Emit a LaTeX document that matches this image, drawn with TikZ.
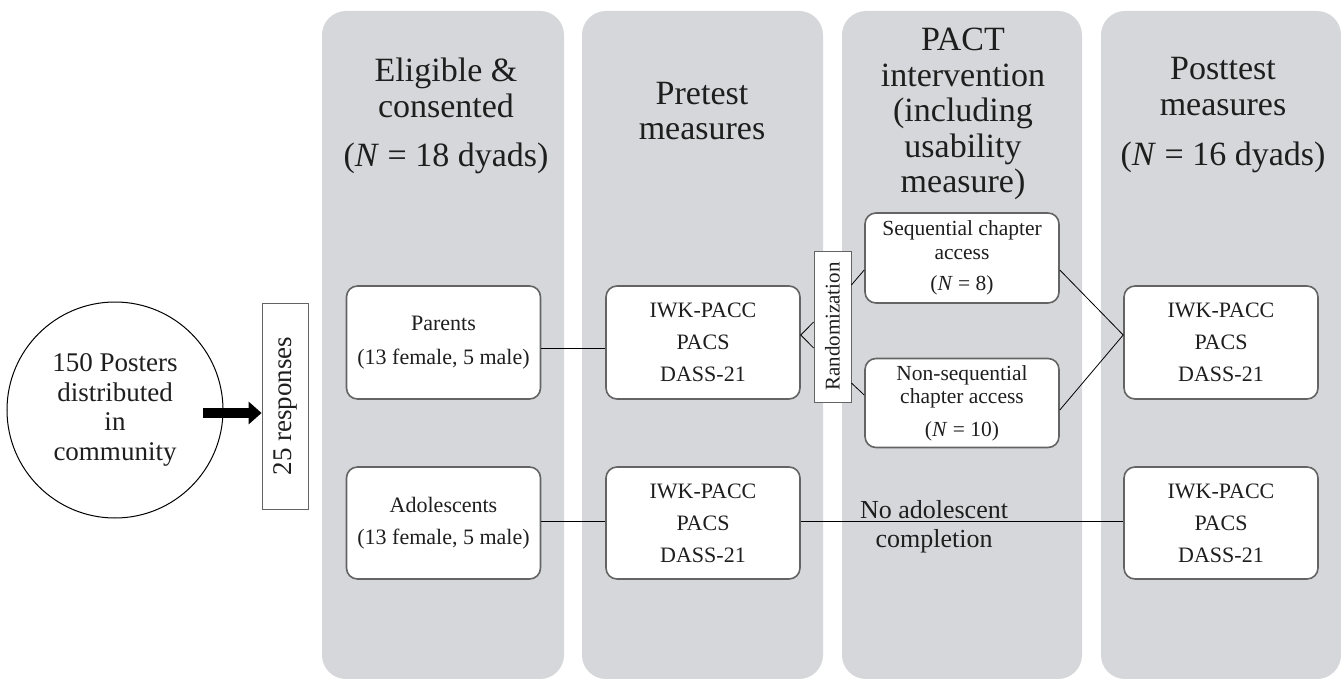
\documentclass[tikz,border=0pt]{standalone}
\usepackage{fontspec}
\usepackage{graphicx}
\setmainfont{Liberation Serif}
\usetikzlibrary{arrows.meta}
\definecolor{colgray}{RGB}{214,215,218}
\definecolor{boxline}{RGB}{100,100,100}
\definecolor{txt}{RGB}{30,30,30}
\begin{document}
\begin{tikzpicture}[x=1pt,y=-1pt,
  lane/.style={fill=colgray, rounded corners=24pt},
  header/.style={align=center, inner sep=0pt, anchor=north, text=txt, font=\fontsize{34}{35.5}\selectfont},
  box/.style={draw=boxline, line width=1.6pt, fill=white, rounded corners=11pt, minimum width=194pt, align=center, inner sep=0pt, text=txt, font=\fontsize{22}{32}\selectfont},
  thinbox/.style={draw=boxline, line width=0.8pt, fill=white, inner sep=0pt, text=txt},
  conn/.style={draw=black, line width=0.8pt},
  bigarrow/.style={line width=10pt, draw=black, -{Triangle[length=13pt,width=22pt]}}
]
\useasboundingbox (0,0) rectangle (1341,679);
% lanes
\fill[lane] (322,11) rectangle (564,679);
\fill[lane] (582,11) rectangle (823,679);
\fill[lane] (842,11) rectangle (1082,679);
\fill[lane] (1101,11) rectangle (1341,679);
% headers
\node[header] (h1) at (446,58) {Eligible \&\\consented\\[14pt](\textit{N} = 18 dyads)};
\node[header] (h2) at (702,82) {Pretest\\measures};
\node[header] (h3) at (963,28) {PACT\\intervention\\(including\\usability\\measure)};
\node[header] (h4) at (1223,57.5) {Posttest\\measures\\[15pt](\textit{N} = 16 dyads)};
% left part
\node[draw=black, line width=1pt, circle, minimum size=216pt, inner sep=0pt, align=center, text=txt, font=\fontsize{27}{29.5}\selectfont] (circ) at (115,410) {150 Posters\\distributed\\in\\community};
\node[thinbox, minimum width=46pt, minimum height=206pt, font=\fontsize{27}{27}\selectfont] (resp) at (285,406) {\rotatebox{90}{25 responses}};
% boxes
\node[box, minimum height=113pt, font=\fontsize{22}{34}\selectfont] (parents) at (443.5,342.5) {Parents\\(13 female, 5 male)};
\node[box, minimum height=112pt, font=\fontsize{22}{32}\selectfont] (adol) at (443.5,523) {Adolescents\\(13 female, 5 male)};
\node[box, minimum height=113pt] (pre1) at (703,342.5) {IWK-PACC\\PACS\\DASS-21};
\node[box, minimum height=112pt] (pre2) at (703,523) {IWK-PACC\\PACS\\DASS-21};
\node[box, minimum height=113pt] (post1) at (1221,342.5) {IWK-PACC\\PACS\\DASS-21};
\node[box, minimum height=112pt] (post2) at (1221,523) {IWK-PACC\\PACS\\DASS-21};
\node[box, minimum height=90pt, font=\fontsize{21.5}{24}\selectfont] (seq) at (962,258) {Sequential chapter\\access\\[7pt](\textit{N} = 8)};
\node[box, minimum height=89pt, font=\fontsize{21.5}{23}\selectfont] (nonseq) at (962,403) {Non-sequential\\chapter access\\[10pt](\textit{N} = 10)};
\node[thinbox, minimum width=37pt, minimum height=151pt, font=\fontsize{21}{21}\selectfont] (rand) at (832.5,326.5) {\rotatebox{90}{Randomization}};
\node[align=center, inner sep=0pt, text=txt, font=\fontsize{26}{29}\selectfont] (noad) at (934,527) {No adolescent\\completion};
% connectors
\draw[bigarrow] ([xshift=-21pt,yshift=-3pt]circ.east) -- ([yshift=-7pt]resp.west);
\draw[conn] ([yshift=-5.5pt]parents.east) -- ([yshift=-5.5pt]pre1.west);
\draw[conn] ([yshift=2pt]adol.east) -- ([yshift=2pt]pre2.west);
\draw[conn] ([yshift=2pt]pre2.east) -- ([yshift=2pt]post2.west);
\draw[conn] ([yshift=4.5pt]rand.west) -- ([yshift=7.5pt]pre1.east) -- ([yshift=-21.5pt]rand.west);
\draw[conn] ([yshift=41.5pt]rand.east) -- ([yshift=-12pt]seq.west);
\draw[conn] ([yshift=-56.5pt]rand.east) -- ([yshift=8pt]nonseq.west);
\draw[conn] ([yshift=-12pt]seq.east) -- ([yshift=7.5pt]post1.west) -- ([yshift=-7pt]nonseq.east);
\end{tikzpicture}
\end{document}
